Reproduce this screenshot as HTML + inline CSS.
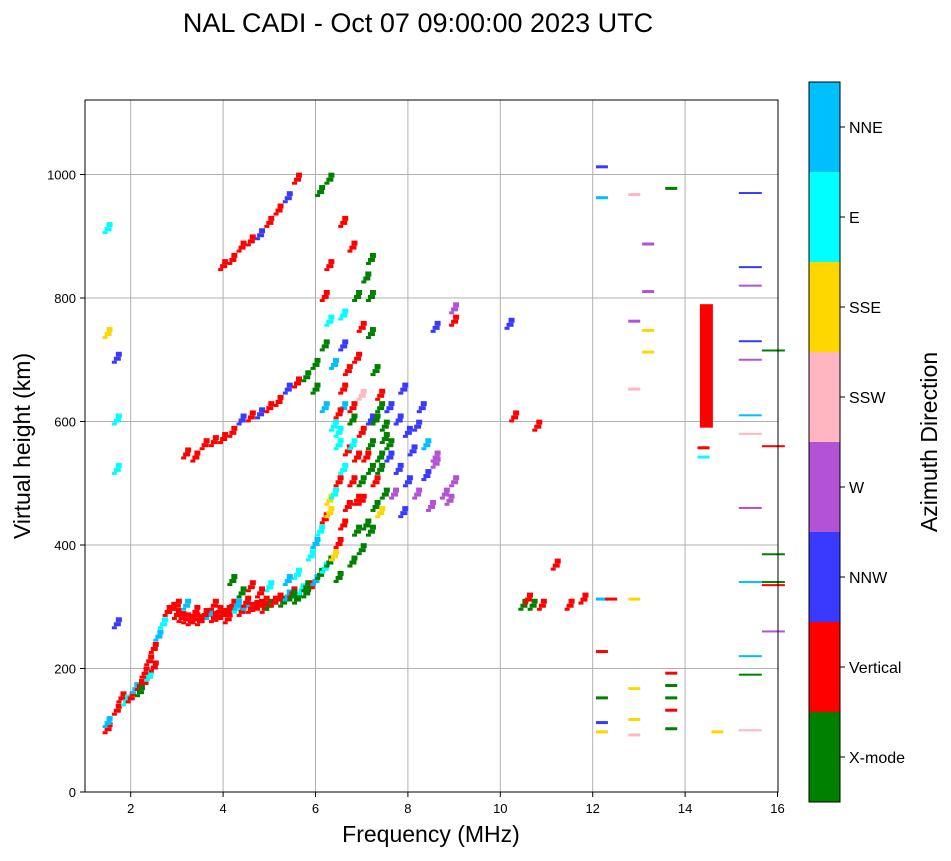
<!DOCTYPE html>
<html><head><meta charset="utf-8"><style>
body{margin:0;background:#fff;font-family:"Liberation Sans",sans-serif}
svg text{font-family:"Liberation Sans",sans-serif}
</style></head><body>
<svg id="svg" width="951" height="856" xmlns="http://www.w3.org/2000/svg">
<rect width="951" height="856" fill="#fff"/>
<text x="418" y="32" font-size="27" text-anchor="middle">NAL CADI - Oct 07 09:00:00 2023 UTC</text>
<g id="grid"></g>
<g id="marks"></g>
<rect x="85" y="100" width="693" height="692" fill="none" stroke="#000" stroke-width="1"/>
<g id="ticks"></g>
<text x="431" y="842" font-size="23" text-anchor="middle">Frequency (MHz)</text>
<text transform="translate(30,446) rotate(-90)" font-size="23" text-anchor="middle">Virtual height (km)</text>
<g id="cbar"></g>
<text transform="translate(937,442) rotate(-90)" font-size="23" text-anchor="middle">Azimuth Direction</text>
</svg>
<script>
const dirNames=["X-mode","Vertical","NNW","W","SSW","SSE","E","NNE"];
const dirColors=["#008000","#ff0000","#3a3aff","#b452d6","#ffb6c1","#ffd700","#00ffff","#00bfff"];
const xTicks=[2,4,6,8,10,12,14,16];
const yTicks=[0,200,400,600,800,1000];
const freqs=[1.5,1.5,1.7,1.8,1.9,2.0,2.1,2.2,2.3,2.3,2.4,2.5,2.5,2.6,2.7,2.8,2.9,3.0,3.1,3.2,3.3,3.4,3.5,3.6,3.7,3.8,3.9,4.0,4.1,4.2,4.3,4.4,4.5,4.6,4.7,4.8,4.9,5.0,5.1,5.2,5.3,5.4,5.5,5.6,5.7,5.8,5.9,6.0,6.1,6.2,6.3,6.4,6.5,6.6,6.7,6.8,6.9,7.0,6.8,6.6,
6.5,6.8,7.0,7.2,7.3,7.4,7.5,7.4,7.3,7.2,7.2,7.2,
3.2,3.4,3.6,3.8,4.0,4.2,4.4,4.6,4.8,5.0,5.2,5.4,5.6,5.8,6.0,6.2,
4.0,4.2,4.4,4.6,4.8,5.0,5.2,5.4,5.6,
6.1,6.3,6.5,6.5,6.6,6.4,6.3,7.0,7.2,7.6,7.8,8.0,8.2,8.4,8.6,8.8,9.0,8.3,8.6,9.0,9.0,8.0,7.9,8.4,
10.5,10.7,10.6,10.9,11.2,11.5,11.8,12.2,12.4,12.9,10.3,10.8,10.2,12.2,12.2,12.9,13.2,13.2,12.9,13.2,13.2,12.9,13.7,13.7,13.7,13.7,13.7,13.7,12.9,12.9,12.9,12.2,12.2,12.2,12.2,14.4,14.4,14.7,1.5,1.7,1.7,1.7,1.5,1.7,
6.2,6.3,6.4,6.5,6.6,6.7,6.8,6.9,7.0,7.1,7.2,7.3,7.4,7.5,7.6,7.3,7.4,7.1,6.9,6.7,6.9,7.0,6.6,6.9,7.1,6.3,6.3,6.1,6.6,6.8,6.2,6.6,6.0,6.2,7.8,7.9,7.7,8.5,8.9,8.2,8.1,8.6,6.0,5.9,5.6,5.4,5.0,4.8,4.6,4.4,4.2,3.8,3.4,3.2,3.0,2.4,2.2,
7.0,7.2,7.4,6.8,6.5,6.4,7.5,7.6,5.8,5.5,5.2,4.9,4.5,4.3,4.1,3.9,3.6];
const heights=[100,110,130,150,145,150,165,170,175,190,185,200,230,250,270,290,295,285,280,278,275,278,275,280,285,280,282,285,278,300,295,290,300,295,298,300,295,300,305,310,305,315,320,310,325,330,330,340,350,360,370,380,400,430,460,500,540,580,620,650,
345,370,390,420,460,520,570,620,680,740,800,860,
545,540,560,565,570,580,600,605,610,620,630,650,660,670,690,720,
850,860,880,890,900,920,940,960,990,
420,470,560,580,620,690,760,640,600,540,520,500,480,510,530,480,500,620,750,760,780,580,450,560,
300,300,310,300,365,300,310,310,310,310,605,590,755,1010,960,965,885,808,760,745,710,650,975,190,170,150,130,100,165,115,90,150,225,110,95,555,540,95,910,600,520,700,740,270,
440,450,480,500,520,550,600,470,500,540,560,600,640,590,560,500,450,430,420,680,700,750,770,800,830,850,990,970,920,880,800,720,650,620,600,650,480,460,470,590,550,540,400,380,350,340,330,320,330,320,340,300,290,300,300,210,160,
470,520,540,560,610,590,480,620,320,315,310,305,305,300,290,290,285];
const dirs=[1,7,1,1,6,1,7,1,1,1,6,1,1,7,6,1,1,1,1,1,1,1,1,1,7,1,1,1,1,1,6,1,7,1,1,1,1,0,1,6,0,7,1,0,6,0,1,7,0,6,0,5,1,1,1,1,1,1,1,1,
0,0,0,0,0,0,0,0,0,0,0,0,
1,1,1,1,1,1,2,1,2,1,1,2,1,0,0,0,
1,1,1,1,2,1,1,2,1,
6,5,6,6,7,7,6,4,2,2,2,2,3,2,3,3,3,2,2,1,3,2,2,7,
0,0,1,1,1,1,1,7,1,5,1,1,2,2,7,4,3,3,3,5,5,4,0,1,0,0,1,0,5,5,4,0,1,2,5,1,6,5,6,6,6,2,5,2,
1,5,6,1,6,1,0,1,0,1,0,0,1,0,0,1,5,0,0,1,1,1,6,0,0,1,0,0,1,1,1,2,0,7,2,2,3,3,3,2,2,3,7,6,6,7,6,1,1,0,0,1,1,7,1,1,0,
1,0,0,6,1,6,0,2,0,0,1,1,1,7,1,1,1];
const lineFreqs=[15.4,15.4,15.4,15.4,15.4,15.4,15.4,15.4,15.4,15.4,15.4,15.4,15.9,15.9,15.9,15.9,15.9,15.9];
const lineHeights=[970,850,820,730,700,610,580,460,340,220,190,100,715,560,385,340,335,260];
const lineDirs=[2,2,3,2,3,7,4,3,7,7,0,4,0,1,0,0,1,3];
const bandFreq=[14.45];const bandLow=[590];const bandHigh=[790];

const X=f=>84.5+(f-1)*46.2, Y=h=>792-h*0.6175;
const NS="http://www.w3.org/2000/svg";
function mk(tag,attrs,parent){const e=document.createElementNS(NS,tag);for(const k in attrs)e.setAttribute(k,attrs[k]);parent.appendChild(e);return e;}
const grid=document.getElementById('grid'),marks=document.getElementById('marks'),ticks=document.getElementById('ticks'),cbar=document.getElementById('cbar');
xTicks.forEach(t=>{const x=X(t);
 if(t<16){const l=mk('line',{x1:x,x2:x,y1:100,y2:792,stroke:'#b0b0b0','stroke-width':1},grid);}
 const tk=mk('line',{x1:x,x2:x,y1:792,y2:797,stroke:'#000'},ticks);
 const tx=mk('text',{x:x,y:813,'font-size':13,'text-anchor':'middle'},ticks);tx.textContent=t;});
yTicks.forEach(t=>{const y=Y(t);
 if(t>0){const l=mk('line',{x1:85,x2:778,y1:y,y2:y,stroke:'#b0b0b0','stroke-width':1},grid);}
 const tk=mk('line',{x1:80,x2:85,y1:y,y2:y,stroke:'#000'},ticks);
 const tx=mk('text',{x:76,y:y+5,'font-size':13,'text-anchor':'end'},ticks);tx.textContent=t;});
freqs.forEach((f,i)=>{const h=heights[i];const c=dirColors[dirs[i]];const dense=f<12;
 const r1=mk('rect',{x:X(f)-(dense?3:6),y:Y(h)-3,width:dense?7:12,height:dense?4:3,fill:c},marks);
 
 if(dense){const r2=mk('rect',{x:X(f)-1,y:Y(h)-8,width:6,height:5,fill:c},marks);
 
 const r3=mk('rect',{x:X(f)-5,y:Y(h)+1,width:5,height:3,fill:c},marks);
 }});
lineFreqs.forEach((f,i)=>{const r=mk('rect',{x:X(f)-11,y:Y(lineHeights[i])-1,width:23,height:2,fill:dirColors[lineDirs[i]]},marks);
 });
bandFreq.forEach((f,i)=>{const r=mk('rect',{x:X(f)-6,y:Y(bandHigh[i]),width:13,height:Y(bandLow[i])-Y(bandHigh[i]),fill:dirColors[1]},marks);
 });
dirNames.forEach((n,i)=>{const y=802-(i+1)*90;
 const r=mk('rect',{x:809,y:y,width:31,height:90,fill:dirColors[i]},cbar);
 const tk=mk('line',{x1:840,x2:845,y1:y+45,y2:y+45,stroke:'#000'},cbar);
 const t=mk('text',{x:849,y:y+51,'font-size':16},cbar);t.textContent=n;});
const fr=mk('rect',{x:809,y:82,width:31,height:720,fill:'none',stroke:'#000'},cbar);
</script>
</body></html>
